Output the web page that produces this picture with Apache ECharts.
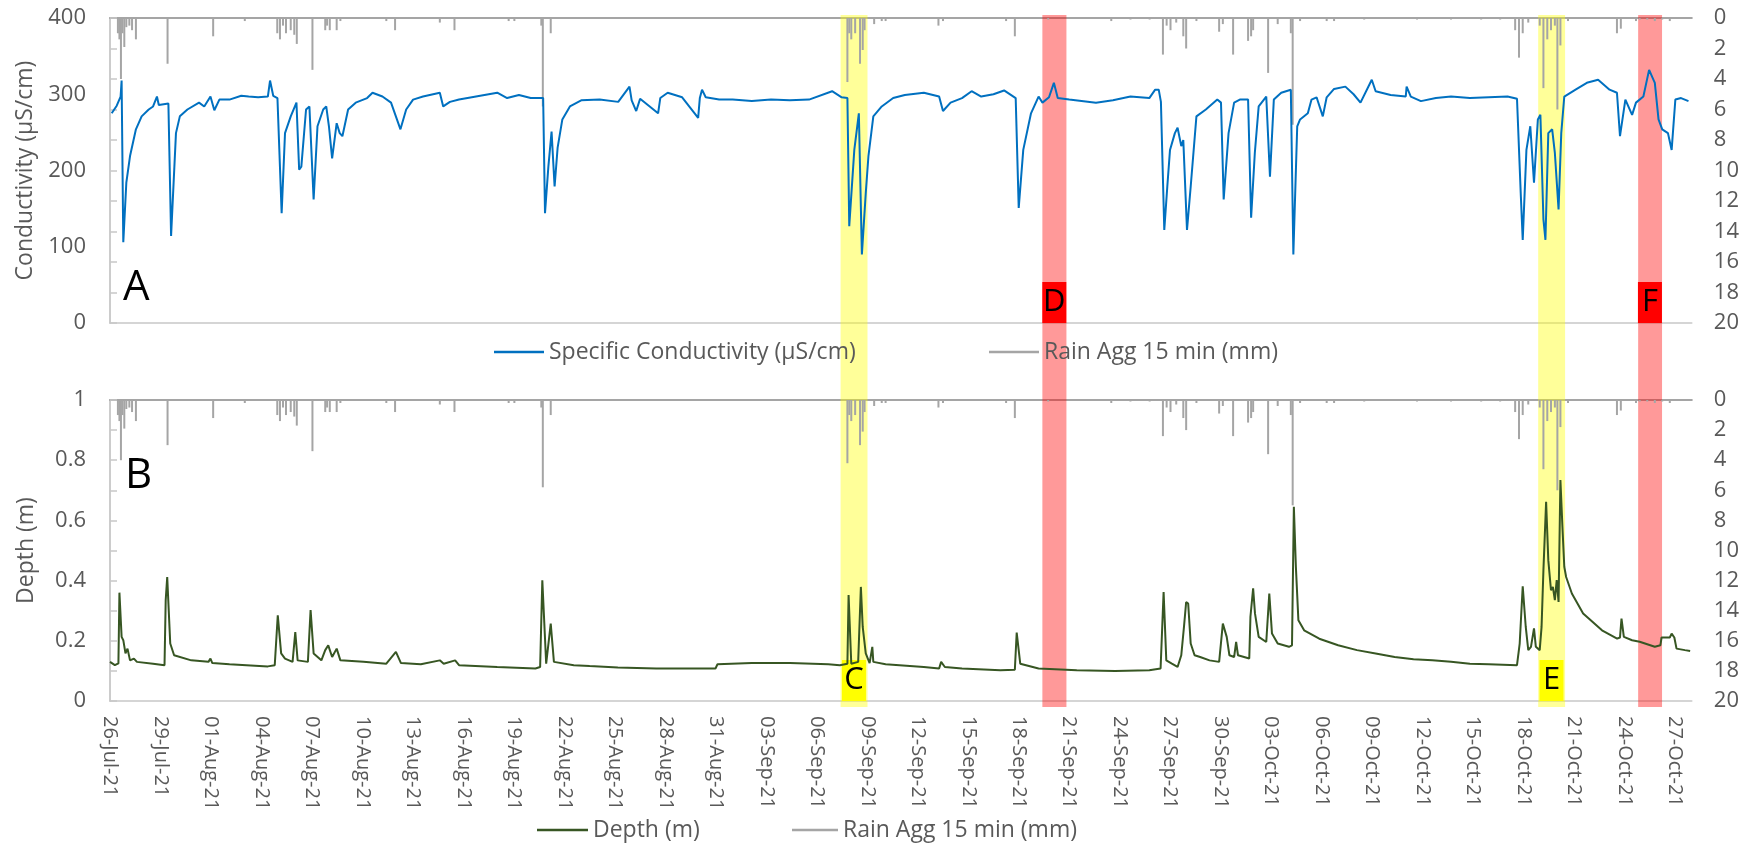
<!DOCTYPE html>
<html>
<head>
<meta charset="utf-8">
<script src="https://cdn.jsdelivr.net/npm/echarts@6/dist/echarts.min.js"></script>
<style>
html,body{margin:0;padding:0;background:#fff;}
#chart{width:1742px;height:847px;}
</style>
</head>
<body>
<div id="chart"></div>
<script>
// x values are days after 26-Jul-2021 00:00
const START = Date.UTC(2021, 6, 26);
const X_MAX = 94;
const X_TICK = 3;
const MONTHS = ['Jan','Feb','Mar','Apr','May','Jun','Jul','Aug','Sep','Oct','Nov','Dec'];

const conductivity = [
[0.10,275],[0.40,285],[0.63,297],[0.69,318],[0.79,106],[0.97,184],[1.19,219],[1.54,254],[1.88,271],[2.30,280],
[2.56,284],[2.79,297],[2.90,286],[3.47,288],[3.63,114],[3.92,249],[4.15,271],[4.60,280],[5.29,289],[5.60,284],
[5.97,297],[6.20,279],[6.50,293],[7.10,293],[7.80,298],[8.24,297],[8.80,296],[9.38,297],[9.51,318],[9.70,298],
[9.95,295],[10.20,144],[10.40,249],[10.74,271],[11.08,289],[11.24,201],[11.37,205],[11.65,280],[11.85,284],[12.10,162],
[12.33,258],[12.67,280],[12.85,284],[13.01,258],[13.20,216],[13.47,262],[13.65,249],[13.81,245],[14.15,280],[14.60,289],
[15.28,295],[15.60,302],[16.19,297],[16.70,289],[17.26,254],[17.60,280],[18.01,293],[18.60,297],[19.60,302],[19.80,284],
[20.20,290],[20.74,293],[21.50,296],[22.00,298],[23.01,302],[23.60,295],[24.30,299],[25.00,295],[25.74,295],[25.85,144],
[26.05,205],[26.24,251],[26.42,179],[26.60,230],[26.88,267],[27.33,284],[28.00,292],[29.10,293],[30.20,290],[30.87,310],
[31.00,292],[31.27,278],[31.50,294],[32.57,275],[32.70,295],[33.14,302],[34.00,296],[34.95,269],[35.05,295],[35.18,306],
[35.40,296],[36.20,293],[37.00,293],[38.14,291],[39.28,293],[40.40,292],[41.54,293],[42.91,304],[43.48,296],[43.82,295],
[43.93,127],[44.23,227],[44.50,275],[44.68,90],[44.91,170],[45.07,219],[45.36,271],[45.86,284],[46.54,295],[47.23,299],
[48.36,302],[49.27,297],[49.50,278],[49.95,289],[50.63,295],[51.20,304],[51.77,297],[52.50,300],[53.13,305],[53.82,295],
[54.00,151],[54.27,227],[54.73,275],[55.18,297],[55.41,289],[55.80,296],[56.09,315],[56.32,295],[57.00,293],[58.59,289],
[59.60,292],[60.64,297],[61.76,295],[62.11,306],[62.32,306],[62.45,290],[62.65,122],[62.83,179],[62.99,227],[63.28,249],
[63.44,256],[63.66,232],[63.78,240],[64.00,122],[64.22,179],[64.56,271],[65.12,280],[65.80,293],[66.02,289],[66.18,162],
[66.47,249],[66.80,289],[67.14,293],[67.63,293],[67.81,138],[68.03,223],[68.26,284],[68.71,297],[68.93,192],[69.16,293],
[69.60,302],[70.17,306],[70.32,90],[70.55,258],[70.72,267],[71.18,275],[71.40,293],[71.70,296],[72.07,271],[72.30,296],
[72.74,307],[73.41,310],[73.90,300],[74.31,289],[74.98,319],[75.21,304],[76.10,299],[77.00,297],[77.05,310],[77.30,297],
[77.90,291],[78.79,295],[79.69,297],[80.81,295],[81.93,296],[83.05,297],[83.61,294],[83.84,166],[83.95,109],[84.17,227],
[84.40,258],[84.62,184],[84.85,267],[85.00,273],[85.18,136],[85.30,109],[85.47,249],[85.70,254],[85.86,223],[86.08,149],
[86.24,249],[86.42,297],[87.09,306],[87.76,315],[88.43,319],[89.11,306],[89.55,302],[89.73,245],[90.05,293],[90.45,273],
[90.68,289],[91.12,297],[91.46,332],[91.80,315],[92.02,267],[92.24,254],[92.58,249],[92.80,227],[93.02,293],[93.36,295],
[93.80,291]
];

const depth = [
[0.00,0.130],[0.29,0.119],[0.50,0.125],[0.56,0.360],[0.69,0.213],[0.79,0.202],[0.92,0.158],[1.04,0.174],[1.19,0.135],[1.42,0.141],
[1.60,0.130],[2.56,0.124],[3.24,0.119],[3.31,0.335],[3.40,0.412],[3.58,0.191],[3.81,0.152],[4.83,0.135],[5.85,0.130],[5.97,0.141],
[6.08,0.126],[7.10,0.122],[9.38,0.115],[9.79,0.119],[9.97,0.285],[10.17,0.158],[10.40,0.141],[10.85,0.130],[11.01,0.229],[11.15,0.135],
[11.76,0.130],[11.92,0.302],[12.10,0.158],[12.56,0.135],[12.79,0.169],[12.97,0.185],[13.20,0.146],[13.47,0.174],[13.69,0.135],[15.06,0.130],
[16.42,0.124],[16.99,0.163],[17.29,0.126],[18.47,0.122],[19.60,0.135],[19.83,0.124],[20.51,0.135],[20.74,0.119],[23.01,0.113],[25.28,0.108],
[25.56,0.113],[25.69,0.401],[25.92,0.124],[26.19,0.257],[26.38,0.130],[27.56,0.119],[28.50,0.116],[30.18,0.111],[32.46,0.108],[35.98,0.108],
[36.10,0.122],[38.14,0.126],[40.41,0.126],[42.68,0.122],[43.37,0.119],[43.82,0.124],[43.89,0.352],[44.05,0.124],[44.46,0.130],[44.62,0.379],
[44.73,0.246],[44.91,0.158],[45.14,0.126],[45.30,0.180],[45.36,0.130],[46.09,0.122],[48.36,0.113],[49.27,0.108],[49.39,0.130],[49.61,0.113],
[50.63,0.108],[52.91,0.102],[53.77,0.104],[53.88,0.227],[54.09,0.124],[55.18,0.108],[57.45,0.102],[59.72,0.100],[61.76,0.102],[62.43,0.108],
[62.61,0.362],[62.77,0.135],[62.88,0.141],[63.10,0.124],[63.44,0.113],[63.66,0.152],[63.82,0.246],[63.95,0.329],[64.07,0.324],[64.22,0.191],
[64.45,0.152],[64.78,0.146],[65.34,0.135],[65.91,0.130],[66.13,0.257],[66.36,0.213],[66.52,0.152],[66.80,0.146],[66.92,0.196],[67.03,0.152],
[67.70,0.141],[67.77,0.280],[67.93,0.374],[68.04,0.291],[68.26,0.213],[68.71,0.196],[68.89,0.357],[69.05,0.224],[69.39,0.191],[70.06,0.180],
[70.24,0.185],[70.35,0.645],[70.47,0.446],[70.62,0.268],[70.96,0.235],[71.86,0.207],[72.98,0.185],[74.10,0.169],[75.21,0.158],[76.34,0.146],
[77.46,0.139],[78.58,0.135],[79.69,0.130],[80.81,0.124],[81.93,0.122],[83.61,0.119],[83.77,0.191],[83.95,0.381],[84.13,0.246],[84.28,0.169],
[84.44,0.180],[84.62,0.241],[84.73,0.180],[84.96,0.169],[85.07,0.246],[85.18,0.434],[85.34,0.662],[85.47,0.468],[85.63,0.368],[85.74,0.379],
[85.86,0.335],[85.97,0.402],[86.08,0.329],[86.19,0.734],[86.31,0.578],[86.42,0.446],[86.53,0.412],[86.87,0.357],[87.54,0.291],[88.66,0.235],
[89.56,0.207],[89.73,0.211],[89.82,0.274],[89.96,0.213],[90.45,0.202],[90.90,0.197],[91.80,0.180],[92.13,0.185],[92.20,0.211],[92.69,0.211],
[92.80,0.224],[92.96,0.211],[93.09,0.174],[93.59,0.169],[93.90,0.166]
];

const rain = [
[0.47,1.0],[0.56,1.4],[0.65,4.0],[0.74,1.0],[0.85,1.9],[0.97,0.6],[1.15,0.5],[1.31,0.8],[1.54,1.4],[3.42,3.0],
[6.13,1.2],[8.01,0.2],[9.94,1.0],[10.10,1.4],[10.28,0.5],[10.46,1.0],[10.74,0.8],[10.95,1.1],[11.10,1.7],[12.03,3.4],
[12.79,0.8],[12.90,0.5],[13.06,0.8],[13.47,0.8],[13.69,0.2],[16.42,0.2],[16.94,0.8],[19.60,0.3],[20.47,0.8],[23.69,0.2],
[24.03,0.2],[25.63,0.5],[25.72,5.8],[26.19,1.0],[43.82,4.2],[43.93,1.0],[44.05,1.4],[44.28,1.0],[44.57,3.0],[44.73,2.1],
[44.84,0.8],[45.41,0.4],[45.86,0.2],[46.09,0.2],[49.23,0.5],[49.50,0.2],[53.25,0.2],[53.77,1.2],[55.75,0.1],[59.50,0.2],
[60.64,0.1],[61.78,0.1],[62.57,2.4],[62.79,0.5],[63.02,0.8],[63.36,0.3],[63.78,1.2],[63.95,2.0],[64.56,0.2],[65.91,0.9],
[66.13,0.4],[66.74,2.4],[67.63,1.5],[67.81,1.2],[67.93,0.8],[68.82,3.6],[69.39,0.4],[70.17,1.0],[70.28,7.0],[70.72,0.2],
[72.30,0.2],[72.74,0.2],[74.53,0.1],[77.67,0.1],[79.69,0.1],[81.48,0.1],[82.61,0.1],[83.50,0.8],[83.73,2.6],[83.95,1.0],
[84.28,0.3],[84.96,0.5],[85.18,4.6],[85.41,1.4],[85.63,0.8],[85.86,0.5],[86.01,6.0],[86.19,1.8],[86.64,0.2],[89.55,1.0],
[89.78,0.7],[90.68,0.2],[90.90,0.1],[91.35,0.1],[91.80,0.2],[92.24,0.1],[92.69,0.2]
];

const yellowBands = [[43.41,45.01],[84.86,86.46]];
const redBands = [[55.40,56.83],[90.80,92.22]];
const condLabels = [['D',55.40,56.83,'#FF0000'],['F',90.80,92.22,'#FF0000']];
const depthLabels = [['C',43.41,45.01,'#FFFF00'],['E',84.86,86.46,'#FFFF00']];

const NAME_COND = 'Specific Conductivity (µS/cm)';
const NAME_DEPTH = 'Depth (m)';
const NAME_RAIN = 'Rain Agg 15 min (mm)';

const FONT = '"Open Sans", "Noto Sans", sans-serif';
const GREY_TXT = '#595959';
const AXIS_GREY = '#C8C8C8';
const RAIN_GREY = '#A5A5A5';

function fmtDay(v) {
  if (Math.abs(v % X_TICK) > 1e-6) return '';
  const d = new Date(START + v * 86400000);
  const dd = String(d.getUTCDate()).padStart(2, '0');
  return dd + '-' + MONTHS[d.getUTCMonth()] + '-' + String(d.getUTCFullYear()).slice(2);
}

function labelAreas(list) {
  return list.map(function (l) {
    return [{
      xAxis: l[1],
      itemStyle: { color: 'rgba(0,0,0,0)' },
      label: {
        show: true, position: 'insideBottom', distance: 0, formatter: l[0],
        color: '#000', fontSize: 31, fontFamily: FONT, lineHeight: 37,
        backgroundColor: l[3], padding: [2, 1, 2, 1], width: 22, align: 'center'
      }
    }, { xAxis: l[2] }];
  });
}
function bandAreas(list, color) {
  return list.map(function (b) {
    return [{ xAxis: b[0], itemStyle: { color: color } }, { xAxis: b[1] }];
  });
}

const gridTop = { left: 110, right: 50, top: 18, height: 305 };
const gridBottom = { left: 110, right: 50, top: 400, height: 301 };
const gridOverlay = { left: 110, right: 50, top: 15, bottom: 140 };

function xBase(gridIndex, showLabels) {
  return {
    type: 'value', gridIndex: gridIndex, min: 0, max: X_MAX, interval: X_TICK, position: 'bottom',
    axisLine: { show: true, lineStyle: { color: AXIS_GREY, width: 1.5 } },
    axisTick: { show: false }, splitLine: { show: false },
    axisLabel: {
      show: showLabels, rotate: -90, margin: 15, color: GREY_TXT, fontSize: 20, fontFamily: FONT,
      formatter: fmtDay, showMaxLabel: false, showMinLabel: true
    }
  };
}
function xTopLine(gridIndex) {
  return {
    type: 'value', gridIndex: gridIndex, min: 0, max: X_MAX, position: 'top',
    axisLine: { show: true, lineStyle: { color: RAIN_GREY, width: 2 } },
    axisTick: { show: false }, splitLine: { show: false }, axisLabel: { show: false }
  };
}
function yLeft(gridIndex, max, interval, name) {
  return {
    type: 'value', gridIndex: gridIndex, position: 'left', min: 0, max: max, interval: interval,
    name: name, nameLocation: 'middle', nameGap: 72,
    nameTextStyle: { color: GREY_TXT, fontSize: 23, fontFamily: FONT },
    axisLine: { show: true, lineStyle: { color: AXIS_GREY, width: 1.5 } },
    axisTick: { show: false }, splitLine: { show: false },
    axisLabel: { color: GREY_TXT, fontSize: 22, fontFamily: FONT, margin: 24 }
  };
}
function yRain(gridIndex) {
  return {
    type: 'value', gridIndex: gridIndex, position: 'right', min: 0, max: 20, interval: 2, inverse: true,
    axisLine: { show: true, lineStyle: { color: AXIS_GREY, width: 1.5 } },
    axisTick: { show: true, length: 7, lineStyle: { color: AXIS_GREY, width: 1.5 } },
    splitLine: { show: false },
    axisLabel: { color: GREY_TXT, fontSize: 22, fontFamily: FONT, margin: 22 }
  };
}

const legendText = { color: GREY_TXT, fontSize: 23, fontFamily: FONT, lineHeight: 26 };

const chart = echarts.init(document.getElementById('chart'), null, { renderer: 'canvas' });
chart.setOption({
  animation: false,
  backgroundColor: '#fff',
  textStyle: { fontFamily: FONT },
  title: [
    { text: 'A', left: 123, top: 267, padding: 0, textStyle: { fontSize: 42, fontWeight: 'normal', color: '#000', fontFamily: FONT, lineHeight: 42 } },
    { text: 'B', left: 125, top: 455, padding: 0, textStyle: { fontSize: 42, fontWeight: 'normal', color: '#000', fontFamily: FONT, lineHeight: 42 } }
  ],
  legend: [
    { data: [{ name: NAME_COND, icon: 'rect' }], left: 494, top: 339, itemWidth: 50, itemHeight: 2.5, padding: 0,
      textStyle: legendText, selectedMode: false },
    { data: [{ name: NAME_RAIN, icon: 'rect' }], left: 989, top: 339, itemWidth: 50, itemHeight: 2.5, padding: 0,
      textStyle: legendText, selectedMode: false },
    { data: [{ name: NAME_DEPTH, icon: 'rect' }], left: 537, top: 817, itemWidth: 51, itemHeight: 2.5, padding: 0,
      textStyle: legendText, selectedMode: false },
    { data: [{ name: NAME_RAIN, icon: 'rect' }], left: 792, top: 817, itemWidth: 46, itemHeight: 2.5, padding: 0,
      textStyle: legendText, selectedMode: false }
  ],
  grid: [gridTop, gridBottom, gridOverlay],
  xAxis: [
    xBase(0, false), xTopLine(0),
    xBase(1, true), xTopLine(1),
    { type: 'value', gridIndex: 2, min: 0, max: X_MAX, show: false }
  ],
  yAxis: [
    yLeft(0, 400, 100, 'Conductivity (µS/cm)'), yRain(0),
    yLeft(1, 1, 0.2, 'Depth (m)'), yRain(1),
    { type: 'value', gridIndex: 2, min: 0, max: 1, show: false }
  ],
  series: [
    { name: NAME_RAIN, type: 'bar', xAxisIndex: 0, yAxisIndex: 1, data: rain, barWidth: 2,
      itemStyle: { color: RAIN_GREY }, z: 2, silent: true },
    { name: NAME_COND, type: 'line', xAxisIndex: 0, yAxisIndex: 0, data: conductivity, symbol: 'none',
      lineStyle: { color: '#0070C0', width: 2 }, itemStyle: { color: '#0070C0' }, z: 3, silent: true,
      markArea: { silent: true, data: labelAreas(condLabels) } },
    { name: NAME_RAIN, type: 'bar', xAxisIndex: 2, yAxisIndex: 3, data: rain, barWidth: 2,
      itemStyle: { color: RAIN_GREY }, z: 2, silent: true },
    { name: NAME_DEPTH, type: 'line', xAxisIndex: 2, yAxisIndex: 2, data: depth, symbol: 'none',
      lineStyle: { color: '#375623', width: 2 }, itemStyle: { color: '#375623' }, z: 3, silent: true,
      markArea: { silent: true, data: labelAreas(depthLabels) } },
    { name: 'bands', type: 'line', xAxisIndex: 4, yAxisIndex: 4, data: [], z: 10, silent: true,
      markArea: { silent: true, data: bandAreas(yellowBands, 'rgba(255,255,0,0.4)').concat(bandAreas(redBands, 'rgba(255,0,0,0.4)')) } }
  ]
});
</script>
</body>
</html>
